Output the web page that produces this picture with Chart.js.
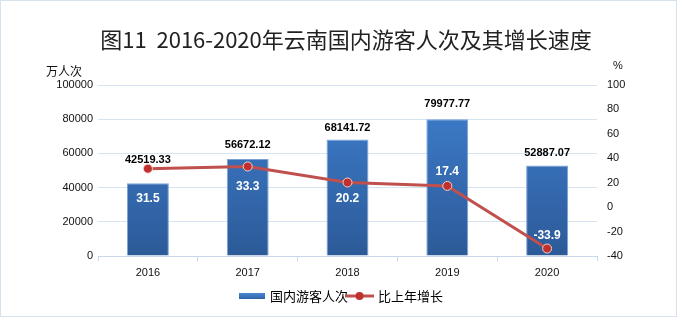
<!DOCTYPE html>
<html>
<head>
<meta charset="utf-8">
<script src="https://cdn.jsdelivr.net/npm/chart.js@4/dist/chart.umd.min.js"></script>
<style>
  html, body { margin: 0; padding: 0; background: #fff; }
  #wrap { width: 677px; height: 317px; position: relative; }
</style>
</head>
<body>
<div id="wrap"><canvas id="touristChart" width="677" height="317"></canvas></div>
<script>
// 数据
const years = ['2016', '2017', '2018', '2019', '2020'];
const visitors = [42519.33, 56672.12, 68141.72, 79977.77, 52887.07]; // 万人次
const growth = [31.5, 33.3, 20.2, 17.4, -33.9]; // %
const leftTicks = [0, 20000, 40000, 60000, 80000, 100000];
const rightTicks = [-40, -20, 0, 20, 40, 60, 80, 100];

const titleText = '图11  2016-2020年云南国内游客人次及其增长速度';
const seriesNames = ['国内游客人次', '比上年增长'];

// 标签偏移（像素）
const barLabelLift = [23, 14, 12, 15, 13];
const lineLabelShift = [30, 20, 16, -14, -13];

const tickFont = { family: '"Liberation Sans", Arial, sans-serif', size: 11 };

const decorPlugin = {
    id: 'decor',
    beforeDraw(chart) {
        const c = chart.ctx;
        c.save();
        c.fillStyle = '#ffffff';
        c.fillRect(0, 0, chart.width, chart.height);
        c.strokeStyle = '#d6e2ee';
        c.lineWidth = 1;
        c.strokeRect(0.5, 0.5, chart.width - 1, chart.height - 1);
        c.restore();
    },
    afterDraw(chart) {
        const c = chart.ctx;
        c.save();
        // 标题
        c.fillStyle = '#222';
        c.font = '22px "Noto Sans CJK SC", sans-serif';
        c.textAlign = 'center';
        c.textBaseline = 'middle';
        c.fillText(titleText, 346, 40);

        // 轴标题
        c.font = '12px "Noto Sans CJK SC", sans-serif';
        c.fillStyle = '#111';
        c.fillText('万人次', 64, 71);
        c.font = '11px "Liberation Sans", Arial, sans-serif';
        c.fillText('%', 618, 66);

        // 柱子数值（柱状图是第 2 个数据集）
        const barMeta = chart.getDatasetMeta(1);
        c.font = 'bold 11px "Liberation Sans", Arial, sans-serif';
        c.fillStyle = '#000';
        barMeta.data.forEach((bar, i) => {
            c.fillText(visitors[i].toFixed(2), bar.x, bar.y - barLabelLift[i]);
        });

        // 折线数值
        const lineMeta = chart.getDatasetMeta(0);
        c.font = 'bold 12px "Liberation Sans", Arial, sans-serif';
        c.fillStyle = '#ffffff';
        lineMeta.data.forEach((pt, i) => {
            c.fillText(growth[i].toFixed(1), pt.x, pt.y + lineLabelShift[i]);
        });

        // 图例
        const ly = 296;
        const g = c.createLinearGradient(0, ly - 3, 0, ly + 3);
        g.addColorStop(0, '#4a86cf');
        g.addColorStop(1, '#2f63a8');
        c.fillStyle = g;
        c.fillRect(239, ly - 3, 26, 6);
        c.fillStyle = '#000';
        c.textAlign = 'left';
        c.font = '13px "Noto Sans CJK SC", sans-serif';
        c.fillText(seriesNames[0], 270, ly);
        c.strokeStyle = '#c0504d';
        c.lineWidth = 3;
        c.beginPath();
        c.moveTo(345, ly);
        c.lineTo(374, ly);
        c.stroke();
        c.fillStyle = '#c0302c';
        c.beginPath();
        c.arc(359.5, ly, 4, 0, Math.PI * 2);
        c.fill();
        c.fillStyle = '#000';
        c.fillText(seriesNames[1], 378, ly);
        c.restore();
    }
};

document.addEventListener('DOMContentLoaded', () => {
    const ctx = document.getElementById('touristChart');
    new Chart(ctx, {
        data: {
            labels: years,
            datasets: [
                {
                    type: 'line',
                    label: seriesNames[1],
                    data: growth,
                    yAxisID: 'y1',
                    borderColor: '#c0504d',
                    borderWidth: 3,
                    pointRadius: 4.5,
                    pointBackgroundColor: '#c0302c',
                    pointBorderColor: '#f2d0cf',
                    pointBorderWidth: 1,
                    tension: 0,
                    order: 0
                },
                {
                    type: 'bar',
                    label: seriesNames[0],
                    data: visitors,
                    yAxisID: 'y',
                    backgroundColor: function(context) {
                        const area = context.chart.chartArea;
                        if (!area) return '#3a72bd';
                        const g = context.chart.ctx.createLinearGradient(0, area.top, 0, area.bottom);
                        g.addColorStop(0, '#3f80d0');
                        g.addColorStop(1, '#2c5a98');
                        return g;
                    },
                    borderColor: '#7aa3d8',
                    borderWidth: 1,
                    barPercentage: 0.42,
                    categoryPercentage: 1,
                    order: 1
                }
            ]
        },
        options: {
            responsive: false,
            animation: false,
            layout: { padding: { top: 85, bottom: 41, left: 0, right: 0 } },
            plugins: {
                legend: { display: false },
                title: { display: false },
                tooltip: { enabled: false }
            },
            scales: {
                x: {
                    offset: true,
                    afterFit: s => { s.height = 20; },
                    grid: {
                        offset: true,
                        drawOnChartArea: false,
                        drawTicks: true,
                        tickLength: 5,
                        color: '#c9d8ea'
                    },
                    border: { color: '#c9d8ea' },
                    ticks: { font: tickFont, color: '#111', padding: 5 }
                },
                y: {
                    position: 'left',
                    min: 0,
                    max: 100000,
                    afterFit: s => { s.width = 98; },
                    afterBuildTicks: s => { s.ticks = leftTicks.map(v => ({ value: v })); },
                    grid: { color: '#d6e3f1', drawTicks: false },
                    border: { display: false },
                    ticks: { font: tickFont, color: '#111', padding: 5, callback: v => String(v) }
                },
                y1: {
                    position: 'right',
                    min: -40,
                    max: 100,
                    afterFit: s => { s.width = 80; },
                    afterBuildTicks: s => { s.ticks = rightTicks.map(v => ({ value: v })); },
                    grid: { drawOnChartArea: false, drawTicks: false },
                    border: { display: false },
                    ticks: { font: tickFont, color: '#111', padding: 10, callback: v => String(v) }
                }
            }
        },
        plugins: [decorPlugin]
    });
});
</script>
</body>
</html>
